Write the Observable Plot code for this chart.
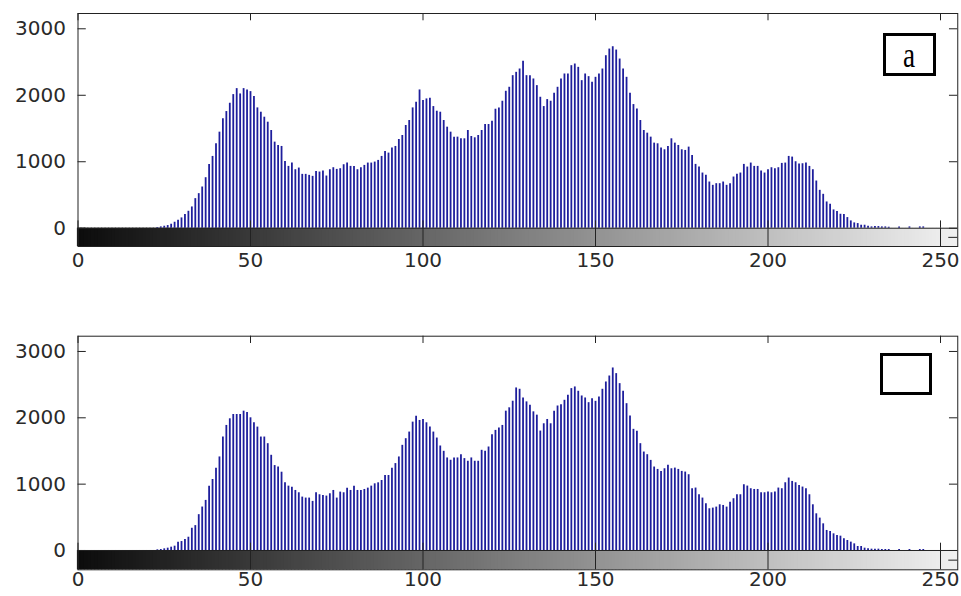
<!DOCTYPE html>
<html><head><meta charset="utf-8">
<script src="https://cdn.jsdelivr.net/npm/d3@7"></script>
<script src="https://cdn.jsdelivr.net/npm/@observablehq/plot@0.6"></script>
<style>
html,body{margin:0;padding:0;background:#fff;}
#wrap{position:relative;width:961px;height:596px;overflow:hidden;background:#fff;}
#wrap svg{display:block;}
.lbl{position:absolute;box-sizing:border-box;border:3px solid #000;background:#fff;font-family:"Liberation Serif","DejaVu Serif",serif;font-size:32px;line-height:1;display:flex;align-items:center;justify-content:center;color:#000;}
.lbl span{display:inline-block;transform:scale(0.85,1.1);}
</style></head><body><div id="wrap"></div>
<script>
// tick labels
const xTicks = [0, 50, 100, 150, 200, 250];
const yTicks = [0, 1000, 2000, 3000];
// colorbar cells (gray levels)
const grayLevels = d3.range(0, 255);
// panel labels
const panelLabels = ["a", ""];

// histogram counts, gray level 0..255 (top panel)
const countsA = [
  0,0,0,0,0,0,0,0,0,0,
  0,0,0,0,0,0,0,0,0,0,
  0,0,0,10,20,30,40,60,90,120,
  155,205,255,320,445,520,620,760,960,1080,
  1270,1445,1645,1755,1880,2010,2100,2020,2100,2080,
  2055,1980,1810,1745,1670,1595,1470,1295,1245,1230,
  1005,930,980,880,905,810,810,795,780,855,
  845,860,785,880,910,885,895,955,980,930,
  930,880,910,945,980,980,995,1020,1080,1155,
  1130,1205,1230,1335,1395,1545,1620,1810,1895,2080,
  1920,1945,1955,1830,1760,1745,1620,1520,1445,1370,
  1370,1345,1345,1470,1380,1360,1395,1470,1560,1560,
  1610,1790,1810,1910,2060,2120,2295,2345,2395,2510,
  2295,2295,2245,2145,1970,1830,1935,1910,2030,2120,
  2245,2320,2320,2445,2470,2420,2220,2320,2280,2195,
  2270,2320,2395,2595,2695,2730,2680,2545,2395,2270,
  2030,1860,1795,1620,1470,1430,1370,1280,1270,1205,
  1180,1230,1345,1280,1245,1180,1170,1220,1095,960,
  920,830,795,695,645,670,670,695,645,670,
  770,810,830,960,920,980,930,930,860,830,
  880,910,895,910,975,980,1080,1070,1000,965,
  970,980,930,880,710,570,510,395,360,275,
  250,210,205,160,110,80,70,45,45,30,
  20,25,25,20,20,15,0,0,20,0,
  0,20,0,0,20,20,0,0,0,0,
  0,0,0,0,0,0
];

// histogram counts, gray level 0..255 (bottom panel)
const countsB = [
  0,0,0,0,0,0,0,0,0,0,
  0,0,0,0,0,0,0,0,0,0,
  0,0,0,10,15,25,35,50,65,125,
  135,165,200,335,375,540,655,755,970,1070,
  1240,1410,1710,1885,1985,2050,2050,2050,2100,2080,
  2000,1925,1860,1710,1710,1610,1435,1280,1260,1180,
  1020,970,955,905,870,805,790,790,740,870,
  840,830,820,855,905,790,880,870,940,905,
  970,905,905,920,940,970,1005,1020,1055,1130,
  1130,1240,1310,1410,1585,1685,1785,1935,2025,1960,
  1975,1925,1860,1785,1695,1575,1495,1395,1360,1395,
  1395,1445,1385,1345,1395,1345,1345,1510,1495,1560,
  1745,1810,1845,1885,2100,2150,2250,2450,2430,2300,
  2240,2190,2090,2040,1800,1910,1975,1910,2100,2178,
  2198,2264,2339,2440,2465,2400,2329,2299,2228,2289,
  2248,2314,2430,2540,2630,2751,2666,2515,2400,2213,
  2027,1826,1796,1610,1484,1444,1358,1258,1222,1192,
  1232,1283,1232,1242,1222,1192,1182,1142,931,941,
  840,790,704,629,639,654,689,679,654,729,
  780,840,840,991,971,931,920,920,870,870,
  880,870,880,941,931,1021,1092,1041,1021,981,
  956,931,840,689,553,488,402,302,287,251,
  226,216,176,151,126,100,60,60,35,25,
  20,20,20,15,15,15,0,0,15,0,
  0,15,0,0,15,15,0,0,0,0,
  0,0,0,0,0,0
];

const YMAX = 3230;
const ink = "#222";
const txt = "#2a2a2a";

function panel(counts, {height, mt, mb, ymin, gap}) {
  const bins = counts.map((c, i) => ({level: i, count: c}));
  const gv = d => Math.round(12 + d * 228 / 254);
  const gray = d => `rgb(${gv(d)},${gv(d)},${gv(d)})`;
  return Plot.plot({
    width: 961, height,
    marginLeft: 77.5, marginRight: 3.75, marginTop: mt, marginBottom: mb,
    x: {domain: [0, 255], axis: null},
    y: {domain: [ymin, YMAX], axis: null},
    style: {fontFamily: "DejaVu Sans, sans-serif", fontSize: "20px", background: "#fff", overflow: "visible"},
    marks: [
      Plot.rect(grayLevels, {x1: d => d, x2: d => d + 1, y1: () => ymin, y2: () => 0, fill: gray, insetLeft: -0.6, insetRight: -0.6}),
      Plot.ruleX(bins, {x: "level", y1: () => 0, y2: "count", stroke: "#1e1e9c", strokeWidth: 1.8}),
      Plot.ruleY([0], {stroke: ink, strokeWidth: 1}),
      Plot.frame({stroke: ink, strokeWidth: 1}),
      Plot.ruleY(yTicks, {y: d => d, x1: () => 0, x2: () => 2.4, stroke: ink}),
      Plot.ruleY(yTicks, {y: d => d, x1: () => 252.6, x2: () => 255, stroke: ink}),
      Plot.ruleY([ymin / 2], {y: d => d, x1: () => 252.4, x2: () => 255, stroke: ink}),
      Plot.ruleX(xTicks, {x: d => d, y1: () => YMAX, y2: () => YMAX - 110, stroke: ink}),
      Plot.ruleX(xTicks, {x: d => d, y1: () => 0, y2: () => 110, stroke: ink}),
      Plot.ruleX(xTicks, {x: d => d, y1: () => ymin, y2: () => 0, stroke: ink}),
      Plot.text(yTicks, {y: d => d, text: d => String(d), frameAnchor: "left", textAnchor: "end", dx: -12, fill: txt, fontSize: 20}),
      Plot.text(xTicks, {x: d => d, text: d => String(d), frameAnchor: "bottom", dy: gap, fill: txt, fontSize: 20})
    ]
  });
}

const wrap = document.getElementById("wrap");
wrap.appendChild(panel(countsA, {height: 298, mt: 13, mb: 52, ymin: -275, gap: 20}));
wrap.appendChild(panel(countsB, {height: 298, mt: 37.7, mb: 26.7, ymin: -291, gap: 15.7}));

const boxes = [
  {left: 883, top: 33, w: 53, h: 43},
  {left: 880, top: 353, w: 52, h: 42}
];
boxes.forEach((b, i) => {
  const d = document.createElement("div");
  d.className = "lbl";
  d.style.left = b.left + "px"; d.style.top = b.top + "px";
  d.style.width = b.w + "px"; d.style.height = b.h + "px";
  const s = document.createElement("span");
  s.textContent = panelLabels[i];
  d.appendChild(s);
  wrap.appendChild(d);
});
</script></body></html>
